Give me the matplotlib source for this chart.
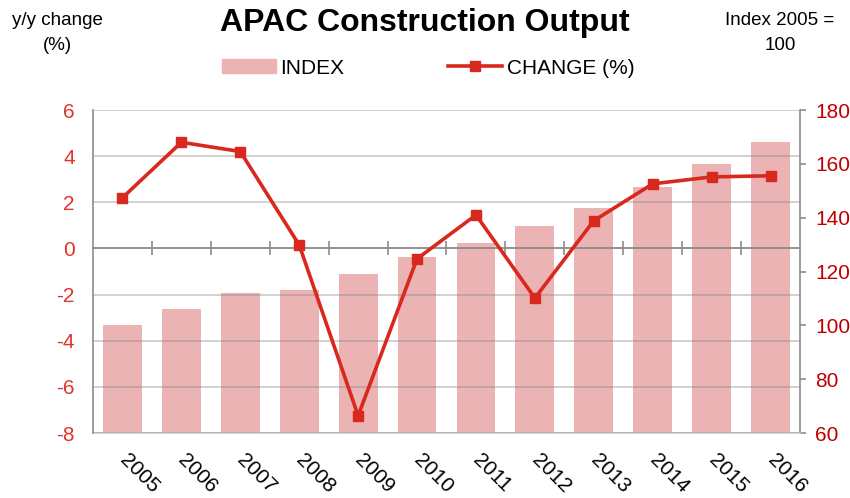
import numpy as np
import matplotlib
matplotlib.use('Agg')
import matplotlib.pyplot as plt
from matplotlib.lines import Line2D
from matplotlib.patches import Patch

plt.rcParams['font.family'] = ['Liberation Sans', 'DejaVu Sans']
plt.rcParams['axes.unicode_minus'] = False

# data
years = ['2005', '2006', '2007', '2008', '2009', '2010',
         '2011', '2012', '2013', '2014', '2015', '2016']
index_vals = [100, 106, 112, 113, 119, 125.5, 130.5, 137, 143.5, 151.5, 160, 168]
change_vals = [2.2, 4.6, 4.2, 0.15, -7.25, -0.45, 1.45, -2.15, 1.2, 2.8, 3.1, 3.15]

bar_color = '#ebb3b3'
line_color = '#d9281e'
left_lbl = '#e0342c'
right_lbl = '#c00000'
spine_gray = '#8c8c8c'

fig = plt.figure(figsize=(8.5, 4.98), dpi=100)
ax = fig.add_axes([93 / 850, 1 - 433 / 498, 707 / 850, 323 / 498])
axb = ax.twinx()
ax.set_zorder(2)
axb.set_zorder(1)
ax.patch.set_visible(False)

x = np.arange(len(years))

# bars on the right (index) scale
axb.bar(x, np.array(index_vals) - 60, bottom=60, width=0.66, color=bar_color)
axb.set_ylim(60, 180)
axb.set_yticks(np.arange(60, 181, 20))
axb.tick_params(axis='y', direction='out', length=4, width=1.2, color=spine_gray,
                labelcolor=right_lbl, labelsize=15, pad=7)
for s in ['top', 'left', 'bottom']:
    axb.spines[s].set_visible(False)
axb.spines['right'].set_color(spine_gray)
axb.spines['right'].set_linewidth(1.2)

# line on the left (change) scale
ax.plot(x, change_vals, color=line_color, lw=2.6, marker='s', ms=7, zorder=5)
ax.set_ylim(-8, 6)
ax.set_xlim(-0.5, len(years) - 0.5)
ax.set_yticks(np.arange(-8, 7, 2))
ax.tick_params(axis='y', length=0, labelcolor=left_lbl, labelsize=15, pad=13)
ax.grid(axis='y', color='#888888', alpha=0.45, lw=1.2)
ax.set_axisbelow(False)

# zero axis with tick marks between categories
ax.spines['bottom'].set_position(('data', 0))
ax.spines['bottom'].set_color(spine_gray)
ax.spines['bottom'].set_linewidth(1.2)
ax.spines['top'].set_visible(False)
ax.spines['right'].set_visible(False)
ax.spines['left'].set_color(spine_gray)
ax.spines['left'].set_linewidth(1.2)
ax.set_xticks(x)
ax.set_xticks(x[:-1] + 0.5, minor=True)
ax.tick_params(axis='x', which='major', length=0, labelbottom=False)
ax.tick_params(axis='x', which='minor', direction='inout', length=10, width=1.2,
               color=spine_gray)

# year labels along the bottom
sec = ax.secondary_xaxis('bottom')
sec.set_xticks(x, labels=years)
sec.tick_params(length=0, labelsize=15, pad=17)
sec.spines['bottom'].set_color('#cccccc')
sec.spines['bottom'].set_linewidth(1.2)
for lab in sec.get_xticklabels():
    lab.set_rotation(-45)
    lab.set_ha('left')
    lab.set_va('center')
    lab.set_rotation_mode('anchor')

fig.text(0.5, 1 - 23 / 498, 'APAC Construction Output', ha='center', va='center',
         fontsize=23, fontweight='bold')
fig.text(57 / 850, 1 - 33 / 498, 'y/y change\n(%)', ha='center', va='center',
         fontsize=13.5, linespacing=1.55)
fig.text(780 / 850, 1 - 33 / 498, 'Index 2005 =\n100', ha='center', va='center',
         fontsize=13.5, linespacing=1.55)

handles = [Patch(color=bar_color),
           Line2D([], [], color=line_color, lw=2.6, marker='s', ms=7)]
fig.legend(handles, ['INDEX', 'CHANGE (%)'], loc='center',
           bbox_to_anchor=(428 / 850, 1 - 68 / 498), ncol=2, frameon=False,
           fontsize=15, columnspacing=5.0, handlelength=2.6, handletextpad=0.2)

fig.savefig('out.png', dpi=100)
